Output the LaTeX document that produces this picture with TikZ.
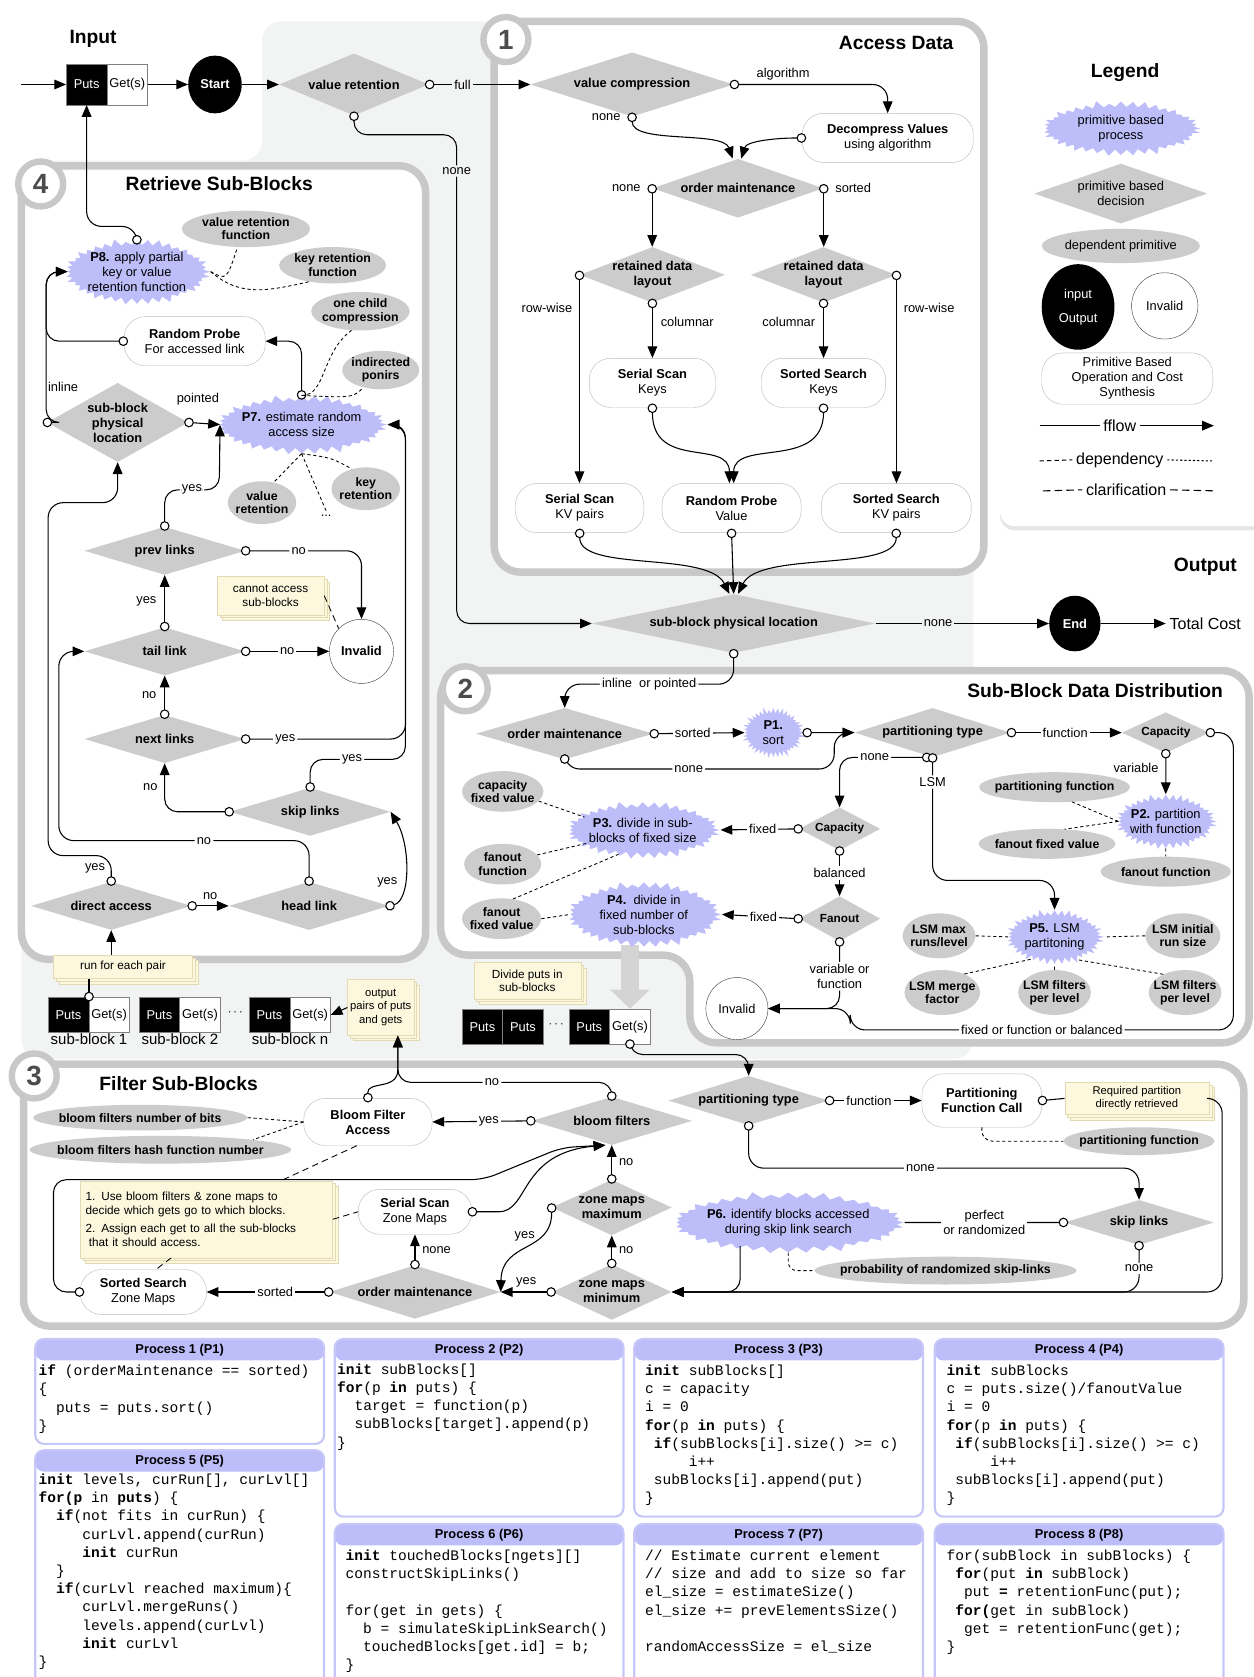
\documentclass[tikz,border=0pt]{standalone}
\usepackage{fontspec}
\setmainfont{Liberation Sans}
\setmonofont{Liberation Mono}
\usepackage{tikz}
\usetikzlibrary{shapes,arrows.meta,positioning,calc,shadows}

\definecolor{bggray}{RGB}{242,244,243}
\definecolor{secgray}{RGB}{200,200,200}
\definecolor{dgray}{RGB}{204,204,204}
\definecolor{lav}{RGB}{189,189,250}
\definecolor{lavline}{RGB}{198,198,248}
\definecolor{cream}{RGB}{253,247,222}
\definecolor{creamline}{RGB}{226,218,178}
\definecolor{boxline}{RGB}{188,188,188}

\begin{document}
\begin{tikzpicture}[x=1pt, y=-1pt,
    every node/.style={font=\fontsize{12}{14}\selectfont},
    decision/.style={diamond, fill=dgray, inner sep=-4pt, aspect=4, align=center, font=\bfseries\fontsize{12}{14}\selectfont},
    depnode/.style={ellipse, fill=dgray, inner sep=-6pt, align=center, font=\bfseries\fontsize{11.5}{12.5}\selectfont},
    proc/.style={starburst, fill=lav, inner sep=-4pt, starburst points=40, starburst point height=7pt, align=center, font=\fontsize{12}{14}\selectfont},
    stadium/.style={rectangle, rounded corners=20pt, draw=boxline, fill=white, align=center, inner sep=2pt},
    io/.style={ellipse, fill=black, text=white, inner sep=0pt, align=center, font=\bfseries\fontsize{12}{14}\selectfont},
    invalid/.style={circle, draw=black!75, fill=white, inner sep=0pt},
    note/.style={rectangle, fill=cream, draw=creamline, align=center, inner sep=2pt, double copy shadow={shadow xshift=2.5pt, shadow yshift=-2.5pt}, font=\fontsize{11}{13}\selectfont},
    putsb/.style={rectangle, fill=black, draw=gray, text=white, minimum width=38pt, minimum height=33pt, inner sep=0pt},
    getsb/.style={rectangle, fill=white, draw=gray, minimum width=38pt, minimum height=33pt, inner sep=0pt},
    sblab/.style={font=\fontsize{14}{16}\selectfont, inner sep=1pt},
    secframe/.style={draw=secgray, line width=7pt, fill=white, rounded corners=25pt},
    badge/.style={circle, draw=secgray, line width=6pt, fill=white, minimum size=42pt, inner sep=0pt, font=\bfseries\fontsize{26}{28}\selectfont, text=black!70},
    stitle/.style={font=\bfseries\fontsize{18}{20}\selectfont},
    flow/.style={line width=1pt, {Circle[fill=white, length=9pt, width=9pt]}-{Triangle[length=11pt, width=9pt]}, shorten <=-4pt},
    flowline/.style={line width=1pt, {Circle[fill=white, length=9pt, width=9pt]}-, shorten <=-4pt},
    arr/.style={line width=1pt, -{Triangle[length=11pt, width=9pt]}},
    bigarr/.style={line width=16pt, draw=black!17, -{Triangle[length=18pt, width=36pt]}},
    depline/.style={line width=0.8pt, dash pattern=on 3pt off 2.5pt},
    clar/.style={line width=0.8pt, dash pattern=on 6pt off 4pt},
    lab/.style={fill=white, inner sep=2pt, align=center, font=\fontsize{12}{14}\selectfont},
    labg/.style={lab, fill=bggray},
    pbox/.style={rectangle, rounded corners=8pt, draw=lavline, line width=2pt, fill=white, minimum width=270pt,
      path picture={\fill[lav] (path picture bounding box.north west) rectangle ([yshift=-20pt]path picture bounding box.north east);}},
    phead/.style={font=\bfseries\fontsize{12}{14}\selectfont},
    codetxt/.style={align=left, anchor=north west, inner sep=0pt, font=\ttfamily\fontsize{13.6}{17}\selectfont}]

  \useasboundingbox (0,0) rectangle (1172,1568);

  % background and frames
  \fill[bggray, rounded corners=18] (245,20) -- (910,20) -- (910,990) -- (20,990) -- (20,150) -- (245,150) -- cycle;
  \draw[secframe] (462,20) rectangle (920,535);
  \draw[secframe] (20,155) rectangle (398,897);
  \draw[secframe] (412,627) -- (1168,627) -- (1168,975) -- (645,975) -- (645,893) -- (412,893) -- cycle;
  \draw[secframe] (22,995) rectangle (1163,1240);
  \fill[white, rounded corners=14, drop shadow={shadow xshift=0pt, shadow yshift=-4pt, opacity=0.2}] (935,48) rectangle (1185,492);

  % titles
  \node[stitle] (ttlin) at (87,36) {Input};
  \node[stitle] (ttlout) at (1127,530) {Output};
  \node[stitle, anchor=east] (ttl1) at (895,40) {Access Data};
  \node[stitle] (ttl4) at (205,172) {Retrieve Sub-Blocks};
  \node[stitle, anchor=east] (ttl2) at (1147,646) {Sub-Block Data Distribution};
  \node[stitle] (ttl3) at (167,1013) {Filter Sub-Blocks};
  \node[stitle] (ttlleg) at (1052,68) {Legend};
  \node[badge] (bdg1) at (473,37) {1};
  \node[badge] (bdg4) at (38,172) {4};
  \node[badge] (bdg2) at (435,644) {2};
  \node[badge] (bdg3) at (32,1006) {3};

  % input and access data
  \coordinate (inL) at (20,79);
  \node[putsb, minimum height=38pt] (inputs) at (81,79) {Puts};
  \node[getsb, minimum height=38pt] (inget) at (119,79) {Get(s)};
  \node[io, minimum width=50pt, minimum height=54pt] (start) at (201,79) {Start};
  \node[decision, minimum width=140pt, minimum height=58pt] (vr) at (331,79) {value retention};
  \node[decision, minimum width=190pt, minimum height=60pt] (vc) at (591,79) {value compression};
  \node[stadium, minimum width=160pt, minimum height=46pt] (dv) at (830,129) {\textbf{Decompress Values}\\using algorithm};
  \node[decision, minimum width=160pt, minimum height=55pt] (om1) at (690,176) {order maintenance};
  \node[decision, aspect=2.7, minimum width=136pt, minimum height=52pt] (rdl1) at (610,257) {retained data\\layout};
  \node[decision, aspect=2.7, minimum width=136pt, minimum height=52pt] (rdl2) at (770,257) {retained data\\layout};
  \node[stadium, minimum width=118pt, minimum height=46pt] (ssk) at (610,358) {\textbf{Serial Scan}\\Keys};
  \node[stadium, minimum width=116pt, minimum height=46pt] (sdk) at (770,358) {\textbf{Sorted Search}\\Keys};
  \node[stadium, minimum width=120pt, minimum height=46pt] (skv) at (542,475) {\textbf{Serial Scan}\\KV pairs};
  \node[stadium, minimum width=130pt, minimum height=46pt] (rpv) at (684,475) {\textbf{Random Probe}\\Value};
  \node[stadium, minimum width=140pt, minimum height=46pt] (sskv) at (838,475) {\textbf{Sorted Search}\\KV pairs};
  \node[decision, aspect=5, minimum width=265pt, minimum height=55pt] (spl) at (686,583) {sub-block physical location};
  \node[io, minimum width=48pt, minimum height=52pt] (fin) at (1005,583) {End};
  \node[anchor=west, font=\fontsize{15}{17}\selectfont] (total) at (1090,583) {Total Cost};

  \draw[arr] (inL) -- (inputs.west);
  \draw[arr] (inget.east) -- (start.west);
  \draw[arr] (start.east) -- (vr.west);
  \draw[flow] (vr.east) -- node[labg, pos=0.33]{full} (vc.west);
  \draw[flow, rounded corners=14] (vc.east) -| node[above, pos=0.16]{algorithm} (dv.north);
  \draw[flow] (vc.south) .. controls (591,135) and (676,122) .. node[pos=0, left=7pt]{none} ([xshift=-5pt]om1.north);
  \draw[flow] (dv.west) .. controls (725,129) and (698,132) .. ([xshift=3pt]om1.north);
  \draw[flow] (om1.west) -- node[pos=0, left=7pt]{none} (om1.west |- rdl1.north);
  \draw[flow] (om1.east) -- node[pos=0, right=7pt]{sorted} (om1.east |- rdl2.north);
  \draw[flow] (rdl1.west) -- node[pos=0.16, left=3pt]{row-wise} (rdl1.west |- skv.north);
  \draw[flow] (rdl1.south) -- node[pos=0.35, right=4pt]{columnar} (ssk.north);
  \draw[flow] (rdl2.south) -- node[pos=0.35, left=4pt]{columnar} (sdk.north);
  \draw[flow] (rdl2.east) -- node[pos=0.16, right=3pt]{row-wise} (rdl2.east |- sskv.north);
  \draw[flow] (ssk.south) .. controls (610,440) and (682,410) .. ([xshift=-2pt]rpv.north);
  \draw[flow] (sdk.south) .. controls (770,440) and (686,410) .. ([xshift=2pt]rpv.north);
  \draw[flow] (skv.south) .. controls (542,535) and (662,515) .. ([xshift=-4pt]spl.north);
  \draw[flow] (rpv.south) -- (spl.north);
  \draw[flow] (sskv.south) .. controls (838,535) and (710,515) .. ([xshift=4pt]spl.north);
  \draw[flow, rounded corners=12] (vr.south) |- (427,126) -- node[labg, pos=0.074]{none} (427,583) -- (spl.west);
  \draw[arr] (spl.east) -- node[labg, pos=0.36]{none} (fin.west);
  \draw[arr] (fin.east) -- (total.west);

  % retrieve sub-blocks
  \node[proc, minimum width=138pt, minimum height=64pt] (p8) at (128,254) {\textbf{P8.} apply partial\\key or value\\retention function};
  \node[depnode, minimum width=120pt, minimum height=34pt] (vrf) at (230,214) {value retention\\function};
  \node[depnode, minimum width=100pt, minimum height=34pt] (krf) at (311,248) {key retention\\function};
  \node[stadium, minimum width=132pt, minimum height=46pt] (rpf) at (182,319) {\textbf{Random Probe}\\For accessed link};
  \node[depnode, minimum width=92pt, minimum height=36pt] (occ) at (337,291) {one child\\compression};
  \node[depnode, minimum width=72pt, minimum height=36pt] (ip) at (356,346) {indirected\\ponirs};
  \node[decision, aspect=1.8, minimum width=132pt, minimum height=74pt] (spl4) at (110,395) {sub-block\\physical\\location};
  \node[proc, minimum width=154pt, minimum height=58pt] (p7) at (282,397) {\textbf{P7.} estimate random\\access size};
  \node[depnode, minimum width=64pt, minimum height=40pt] (vr2) at (245,470) {value\\retention};
  \node[depnode, minimum width=64pt, minimum height=40pt] (kr2) at (342,457) {key\\retention};
  \node (dots) at (305,482) {...};
  \node[decision, minimum width=150pt, minimum height=45pt] (pl) at (154,515) {prev links};
  \node[note, minimum width=100pt, minimum height=36pt] (can) at (253,557) {cannot access\\sub-blocks};
  \node[decision, minimum width=150pt, minimum height=45pt] (tl) at (154,609) {tail link};
  \node[invalid, minimum size=60pt, font=\bfseries\fontsize{12}{14}\selectfont] (inv4) at (338,609) {Invalid};
  \node[decision, minimum width=150pt, minimum height=45pt] (nl) at (154,691) {next links};
  \node[decision, minimum width=150pt, minimum height=45pt] (sl) at (290,759) {skip links};
  \node[decision, minimum width=150pt, minimum height=45pt] (da) at (104,847) {direct access};
  \node[decision, minimum width=150pt, minimum height=45pt] (hl) at (289,847) {head link};
  \node[note, minimum width=130pt, minimum height=22pt] (rfp) at (115,904) {run for each pair};
  \node (inl) at (59,362) {inline};
  \node (pnt) at (185,373) {pointed};

  \draw[flow, rounded corners=14] (p8.north) -- ++(0,-12) -| (inputs.south);
  \draw[flow, rounded corners=12] (rpf.west) -| ([xshift=-20pt]p8.west) -- (p8.west);
  \draw[flow, rounded corners=12] (spl4.west) -| ([xshift=-20pt]p8.west) -- (p8.west);
  \draw[flow] (spl4.east) -- (p7.west);
  \draw[flow, rounded corners=12] (p7.north) |- (rpf.east);
  \draw[depline] (p7.north) .. controls (305,370) and (300,330) .. (occ.-115);
  \draw[depline] (p7.north) .. controls (330,372) .. (ip.-135);
  \draw[depline] (p7.south) -- (vr2.60);
  \draw[depline] (p7.south) -- (dots.north);
  \draw[depline] (p7.south) .. controls (310,428) .. (kr2.125);
  \draw[depline] (p8.east) .. controls (212,262) .. (vrf.-115);
  \draw[depline] (p8.east) .. controls (225,278) and (250,272) .. (krf.-145);
  \draw[flow, rounded corners=12] (pl.north) |- node[lab, pos=0.75]{yes} (205,458) -- (p7.west);
  \draw[flow, rounded corners=14] (pl.east) -| node[lab, pos=0.23]{no} (inv4.north);
  \draw[clar] (can.east) -- (inv4.north west);
  \draw[flow] (tl.north) -- node[left=4pt]{yes} (pl.south);
  \draw[flow] (tl.east) -- node[lab]{no} (inv4.west);
  \draw[flow] (nl.north) -- node[left=4pt]{no} (tl.south);
  \draw[flow, rounded corners=14] (nl.east) -- node[lab, pos=0.25]{yes} ++(150,0) |- (p7.east);
  \draw[flow, rounded corners=12] (sl.north) |- node[lab, pos=0.72]{yes} (379,710) |- (p7.east);
  \draw[flow, rounded corners=12] (sl.west) -| node[left=3pt, pos=0.75]{no} (nl.south);
  \draw[flow, rounded corners=14] (da.north) |- node[left=2pt, pos=0.25]{yes} (45,800) -- (45,470) -| (spl4.south);
  \draw[flow] (da.east) -- node[above=2pt]{no} (hl.west);
  \draw[flow, rounded corners=14] (hl.north) |- node[lab, pos=0.71]{no} (55,786) |- (tl.west);
  \draw[flow] (hl.east) .. controls (384,842) and (384,790) .. node[pos=0.38, left=3pt]{yes} (sl.east);
  \draw[arr] (da.south |- rfp.north) -- (da.south);

  % sub-blocks between sections
  \node[putsb] (sb1p) at (64,949) {Puts};
  \node[getsb] (sb1g) at (102,949) {Get(s)};
  \node[putsb] (sb2p) at (149,949) {Puts};
  \node[getsb] (sb2g) at (187,949) {Get(s)};
  \node (sbdots) at (220,947) {$\cdots$};
  \node[putsb] (sbnp) at (252,949) {Puts};
  \node[getsb] (sbng) at (290,949) {Get(s)};
  \node[sblab, below=0pt of sb1p.south east] (sbl1) {sub-block 1};
  \node[sblab, below=0pt of sb2p.south east] (sbl2) {sub-block 2};
  \node[sblab, below=0pt of sbnp.south east] (sbln) {sub-block n};
  \node[note, minimum width=62pt, minimum height=52pt, inner sep=1pt, font=\fontsize{10.5}{12.5}\selectfont] (opg) at (356,942) {output\\pairs of puts\\and gets};
  \draw[arr] (opg.west) -- (sbng.east);
  \draw[flowline] (sb1p.north east) -- (sb1p.north east |- rfp.south);
  \node[note, minimum width=100pt, minimum height=34pt] (dps) at (493,917) {Divide puts in\\sub-blocks};
  \node[putsb] (r2a) at (451,960) {Puts};
  \node[putsb] (r2b) at (489,960) {Puts};
  \node (r2dots) at (520,958) {$\cdots$};
  \node[putsb] (r2c) at (551,960) {Puts};
  \node[getsb] (r2g) at (589,960) {Get(s)};
  \coordinate (s2out) at (589,884);
  \draw[bigarr] (s2out) -- (r2g.north);

  % sub-block data distribution
  \node[decision, minimum width=166pt, minimum height=48pt] (om2) at (528,686) {order maintenance};
  \node[proc, minimum width=62pt, minimum height=50pt] (p1) at (723,685) {\textbf{P1.}\\sort};
  \node[decision, minimum width=146pt, minimum height=46pt] (pt2) at (872,685) {partitioning type};
  \node[decision, aspect=2, minimum width=82pt, minimum height=38pt, font=\bfseries\fontsize{11}{13}\selectfont] (cap1) at (1090,685) {Capacity};
  \node[proc, minimum width=94pt, minimum height=54pt] (p2) at (1090,768) {\textbf{P2.} partition\\with function};
  \node[depnode, minimum width=140pt, minimum height=28pt] (pfn) at (986,736) {partitioning function};
  \node[depnode, minimum width=128pt, minimum height=28pt] (ffv) at (979,789) {fanout fixed value};
  \node[depnode, minimum width=122pt, minimum height=28pt] (ffn) at (1090,815) {fanout function};
  \node[decision, aspect=2, minimum width=76pt, minimum height=40pt, font=\bfseries\fontsize{11}{13}\selectfont] (cap2) at (785,775) {Capacity};
  \node[proc, minimum width=140pt, minimum height=56pt] (p3) at (601,776) {\textbf{P3.} divide in sub-\\blocks of fixed size};
  \node[depnode, minimum width=76pt, minimum height=38pt] (cfv) at (470,740) {capacity\\fixed value};
  \node[depnode, minimum width=72pt, minimum height=38pt] (ffn2) at (470,808) {fanout\\function};
  \node[depnode, minimum width=74pt, minimum height=38pt] (ffv2) at (469,859) {fanout\\fixed value};
  \node[decision, aspect=2, minimum width=76pt, minimum height=42pt, font=\bfseries\fontsize{11}{13}\selectfont] (fan) at (785,859) {Fanout};
  \node[proc, minimum width=146pt, minimum height=64pt] (p4) at (602,855) {\textbf{P4.}\ \ divide in\\fixed number of\\sub-blocks};
  \node[invalid, minimum size=58pt] (inv2) at (689,943) {Invalid};
  \node[proc, minimum width=94pt, minimum height=54pt] (p5) at (986,876) {\textbf{P5.} LSM\\partitoning};
  \node[depnode, minimum width=68pt, minimum height=42pt] (lmr) at (878,875) {LSM max\\runs/level};
  \node[depnode, minimum width=70pt, minimum height=42pt] (lir) at (1106,875) {LSM initial\\run size};
  \node[depnode, minimum width=68pt, minimum height=42pt] (lmf) at (881,928) {LSM merge\\factor};
  \node[depnode, minimum width=68pt, minimum height=42pt] (lfp1) at (986,928) {LSM filters\\per level};
  \node[depnode, minimum width=68pt, minimum height=42pt] (lfp2) at (1108,928) {LSM filters\\per level};

  \draw[flow, rounded corners=14] (spl.south) -- ++(0,29) -| node[lab, pos=0.25]{inline\ \ or pointed} (om2.north);
  \draw[flow] (om2.east) -- node[lab, pos=0.43]{sorted} (p1.west);
  \draw[flow] (p1.east) -- (pt2.west);
  \draw[flow, rounded corners=14] (om2.south) |- node[lab, pos=0.73]{none} (780,719) |- (pt2.west);
  \draw[flow] (pt2.east) -- node[lab, pos=0.49]{function} (cap1.west);
  \draw[flow] (cap1.south) -- node[left=3pt, pos=0.35]{variable} (p2.north);
  \draw[depline] (p2.west) -- (pfn.-40);
  \draw[depline] (p2.west) -- (ffv.40);
  \draw[depline] (p2.south) -- (ffn.north);
  \draw[flow, rounded corners=14] (cap1.east) -- ++(22,0) |- node[lab, pos=0.75]{fixed or function or balanced} (795,963) |- (inv2.east);
  \draw[flow, rounded corners=12] ([xshift=-5pt]pt2.south) -| node[lab, pos=0.3]{none} (cap2.north);
  \draw[flow, rounded corners=14] (pt2.south) -- node[lab, pos=0.2]{LSM} ++(0,115) -| (p5.north);
  \draw[flow] (cap2.west) -- node[lab, pos=0.46]{fixed} (p3.east);
  \draw[flow] (cap2.south) -- node[lab]{balanced} (fan.north);
  \draw[flow] (fan.west) -- node[lab, pos=0.46]{fixed} (p4.east);
  \draw[flow, rounded corners=12] (fan.south) |- node[lab, pos=0.26]{variable or\\function} (inv2.east);
  \draw[depline] (cfv.-15) -- ([xshift=14pt, yshift=12pt]p3.west);
  \draw[depline] (ffn2.15) -- ([xshift=18pt, yshift=-12pt]p3.west);
  \draw[depline] (ffv2.60) -- (p3.south west);
  \draw[depline] (ffv2.east) -- (p4.west);
  \draw[depline] (lmr.east) -- (p5.west);
  \draw[depline] (lir.west) -- (p5.east);
  \draw[depline] (lmf.40) -- (p5.south west);
  \draw[depline] (lfp1.north) -- (p5.south);
  \draw[depline] (lfp2.140) -- (p5.south east);

  % filter sub-blocks
  \node[decision, minimum width=150pt, minimum height=46pt] (pt3) at (700,1029) {partitioning type};
  \node[stadium, minimum width=112pt, minimum height=50pt, font=\bfseries\fontsize{12}{14}\selectfont] (pfc) at (918,1029) {Partitioning\\Function Call};
  \node[note, minimum width=135pt, minimum height=30pt, font=\fontsize{10.5}{12.5}\selectfont] (rpd) at (1063,1027) {Required partition\\directly retrieved};
  \node[depnode, minimum width=140pt, minimum height=26pt] (pfn3) at (1065,1067) {partitioning function};
  \node[decision, minimum width=140pt, minimum height=42pt] (sl3) at (1065,1143) {skip links};
  \node[proc, minimum width=212pt, minimum height=60pt] (p6) at (737,1143) {\textbf{P6.} identify blocks accessed\\during skip link search};
  \node[depnode, minimum width=245pt, minimum height=26pt, inner sep=-14pt] (prs) at (884,1188) {probability of randomized skip-links};
  \node[decision, aspect=2, minimum width=112pt, minimum height=52pt] (zmin) at (572,1208) {zone maps\\minimum};
  \node[decision, aspect=2, minimum width=112pt, minimum height=52pt] (zmax) at (572,1129) {zone maps\\maximum};
  \node[decision, minimum width=150pt, minimum height=45pt] (bf) at (572,1048) {bloom filters};
  \node[stadium, minimum width=120pt, minimum height=44pt, font=\bfseries\fontsize{12}{14}\selectfont] (bfa) at (344,1049) {Bloom Filter\\Access};
  \node[depnode, minimum width=200pt, minimum height=24pt] (bfn) at (131,1045) {bloom filters number of bits};
  \node[depnode, minimum width=240pt, minimum height=26pt, inner sep=-10pt] (bfh) at (150,1075) {bloom filters hash function number};
  \node[note, minimum width=236pt, minimum height=72pt, text width=226pt, align=left, font=\fontsize{11}{13}\selectfont] (ucl) at (193,1140) {1. Use bloom filters \& zone maps to\\decide which gets go to which blocks.\\[4pt]2. Assign each get to all the sub-blocks\\\hspace*{3pt}that it should access.};
  \node[stadium, minimum width=106pt, minimum height=42pt] (ssz) at (388,1133) {\textbf{Serial Scan}\\Zone Maps};
  \node[stadium, minimum width=118pt, minimum height=42pt] (szm) at (134,1208) {\textbf{Sorted Search}\\Zone Maps};
  \node[decision, minimum width=160pt, minimum height=50pt] (om3) at (388,1208) {order maintenance};

  \draw[flow, rounded corners=12] (r2g.south) |- (700,986) -- (pt3.north);
  \draw[flow] (pt3.east) -- node[lab, pos=0.43]{function} (pfc.west);
  \draw[flowline] (pfc.east) -- (rpd.west);
  \draw[arr, rounded corners=14] (rpd.east) -- ++(12,0) |- (zmin.east);
  \draw[depline, rounded corners=10] (pfc.south) |- (pfn3.west);
  \draw[flow, rounded corners=14] (pt3.south) -- ++(0,40) -| node[lab, pos=0.22]{none} (sl3.north);
  \draw[flowline] (sl3.west) -- node[lab]{perfect\\or randomized} (p6.east);
  \draw[flow, rounded corners=14] (sl3.south) |- node[lab, pos=0.25]{none} (zmin.east);
  \draw[depline, rounded corners=8] (p6.south) |- (prs.west);
  \draw[arr, rounded corners=12] ([xshift=-45pt, yshift=6pt]p6.south) |- (zmin.east);
  \draw[flow] (zmin.north) -- node[right=3pt]{no} (zmax.south);
  \draw[flow] (zmax.north) -- node[right=3pt]{no} (bf.south);
  \draw[flow] (bf.west) -- node[lab, pos=0.43]{yes} (bfa.east);
  \draw[flow] (zmin.west) -- node[above=1pt]{yes} (om3.east);
  \draw[flow] (zmax.west) .. controls (516,1172) and (469,1160) .. node[pos=0.3, left=2pt]{yes} (om3.east);
  \draw[flow] (om3.west) -- node[lab, pos=0.44]{sorted} (szm.east);
  \draw[flow] (om3.north) -- node[right=3pt]{none} (ssz.south);
  \draw[flow] (ssz.east) -- ++(25,0) .. controls (495,1133) and (485,1078) .. ([xshift=-6pt]bf.south);
  \draw[flow, rounded corners=12] (szm.west) -| (50,1103) -- (452,1103) -- (525,1073) -- ([xshift=-6pt]bf.south);
  \draw[flow, rounded corners=12] (bf.north) |- node[lab, pos=0.78]{no} (372,1012) -- ([xshift=16pt]opg.south);
  \draw[flow] (bfa.north) .. controls (343,1010) and (372,1020) .. (372,1000) -- ([xshift=16pt]opg.south);
  \draw[depline] (bfa.west) -- (bfn.east);
  \draw[depline] (bfa.west) -- (bfh.north east);
  \draw[clar] (bfa.-115) -- ([xshift=70pt]ucl.north);
  \draw[clar] (ucl.east) -- (ssz.west);
  \draw[clar] ([xshift=-33pt]ucl.south) -- ([xshift=12pt]szm.north);

  % legend
  \node[proc, minimum width=150pt, minimum height=54pt] (lgp) at (1048,120) {primitive based\\process};
  \node[decision, aspect=2.5, minimum width=162pt, minimum height=56pt, font=\fontsize{12}{14}\selectfont] (lgd) at (1048,181) {primitive based\\decision};
  \node[depnode, minimum width=148pt, minimum height=32pt, font=\fontsize{12}{14}\selectfont] (lge) at (1048,230) {dependent primitive};
  \node[io, minimum width=68pt, minimum height=80pt, font=\fontsize{12}{22}\selectfont] (lgio) at (1008,287) {input\\Output};
  \node[invalid, minimum size=62pt] (lginv) at (1089,286) {Invalid};
  \node[stadium, minimum width=160pt, minimum height=48pt] (lgop) at (1054,354) {Primitive Based\\Operation and Cost\\Synthesis};
  \node[font=\fontsize{15}{17}\selectfont] (lgf) at (1047,398) {fflow};
  \coordinate (lgfa) at (972,398);
  \coordinate (lgfb) at (1135,398);
  \draw[line width=1pt] (lgfa) -- (lgf.west);
  \draw[arr] (lgf.east) -- (lgfb);
  \node[font=\fontsize{15}{17}\selectfont] (lgdp) at (1047,430) {dependency};
  \coordinate (lgda) at (972,431);
  \coordinate (lgdb) at (1135,431);
  \draw[line width=1pt, dash pattern=on 4pt off 3pt] (lgda) -- (lgdp.west);
  \draw[line width=1pt, dash pattern=on 2pt off 2pt] (lgdp.east) -- (lgdb);
  \node[font=\fontsize{15}{17}\selectfont] (lgcl) at (1053,458) {clarification};
  \coordinate (lgca) at (975,459);
  \coordinate (lgcb) at (1138,459);
  \draw[line width=1pt, dash pattern=on 7pt off 4pt] (lgca) -- (lgcl.west);
  \draw[line width=1pt, dash pattern=on 7pt off 4pt] (lgcl.east) -- (lgcb);

  % process code boxes
  \node[pbox, minimum height=98pt] (pb1) at (168,1301) {};
  \node[phead] (ph1) at (168,1262) {Process 1 (P1)};
  \node[codetxt] (pc1) at (36,1276) {\textbf{if} (orderMaintenance == sorted)\\\{\\\ \ puts = puts.sort()\\\}};
  \node[pbox, minimum height=224pt] (pb5) at (168,1468) {};
  \node[phead] (ph5) at (168,1366) {Process 5 (P5)};
  \node[codetxt] (pc5) at (36,1378) {\textbf{init} levels, curRun[], curLvl[]\\\textbf{for(p} in \textbf{puts}) \{\\\ \ \textbf{if}(not fits in curRun) \{\\\ \ \ \ \ curLvl.append(curRun)\\\ \ \ \ \ \textbf{init} curRun\\\ \ \}\\\ \ \textbf{if}(curLvl reached maximum)\{\\\ \ \ \ \ curLvl.mergeRuns()\\\ \ \ \ \ levels.append(curLvl)\\\ \ \ \ \ \textbf{init} curLvl\\\}};
  \node[pbox, minimum height=166pt] (pb2) at (448,1335) {};
  \node[phead] (ph2) at (448,1262) {Process 2 (P2)};
  \node[codetxt] (pc2) at (315,1275) {\textbf{init} subBlocks[]\\\textbf{for}(p \textbf{in} puts) \{\\\ \ target = function(p)\\\ \ subBlocks[target].append(p)\\\}};
  \node[pbox, minimum height=155pt] (pb6) at (448,1502.5) {};
  \node[phead] (ph6) at (448,1435) {Process 6 (P6)};
  \node[codetxt] (pc6) at (323,1449) {\textbf{init} touchedBlocks[ngets][]\\constructSkipLinks()\\[17pt]for(get in gets) \{\\\ \ b = simulateSkipLinkSearch()\\\ \ touchedBlocks[get.id] = b;\\\}};
  \node[pbox, minimum height=166pt] (pb3) at (728,1335) {};
  \node[phead] (ph3) at (728,1262) {Process 3 (P3)};
  \node[codetxt] (pc3) at (603,1276) {\textbf{init} subBlocks[]\\c = capacity\\i = 0\\\textbf{for}(p \textbf{in} puts) \{\\\ \textbf{if}(subBlocks[i].size() >= c)\\\ \ \ \ \ i++\\\ subBlocks[i].append(put)\\\}};
  \node[pbox, minimum height=155pt] (pb7) at (728,1502.5) {};
  \node[phead] (ph7) at (728,1435) {Process 7 (P7)};
  \node[codetxt] (pc7) at (603,1449) {// Estimate current element\\// size and add to size so far\\el\_size = estimateSize()\\el\_size += prevElementsSize()\\[17pt]randomAccessSize = el\_size};
  \node[pbox, minimum height=166pt] (pb4) at (1009,1335) {};
  \node[phead] (ph4) at (1009,1262) {Process 4 (P4)};
  \node[codetxt] (pc4) at (885,1276) {\textbf{init} subBlocks\\c = puts.size()/fanoutValue\\i = 0\\\textbf{for}(p \textbf{in} puts) \{\\\ \textbf{if}(subBlocks[i].size() >= c)\\\ \ \ \ \ i++\\\ subBlocks[i].append(put)\\\}};
  \node[pbox, minimum height=155pt] (pb8) at (1009,1502.5) {};
  \node[phead] (ph8) at (1009,1435) {Process 8 (P8)};
  \node[codetxt] (pc8) at (885,1449) {for(subBlock in subBlocks) \{\\\ \textbf{for}(put \textbf{in} subBlock)\\\ \ put \textbf{=} retentionFunc(put);\\\ \textbf{for(}get in subBlock)\\\ \ get = retentionFunc(get);\\\}};
\end{tikzpicture}
\end{document}
